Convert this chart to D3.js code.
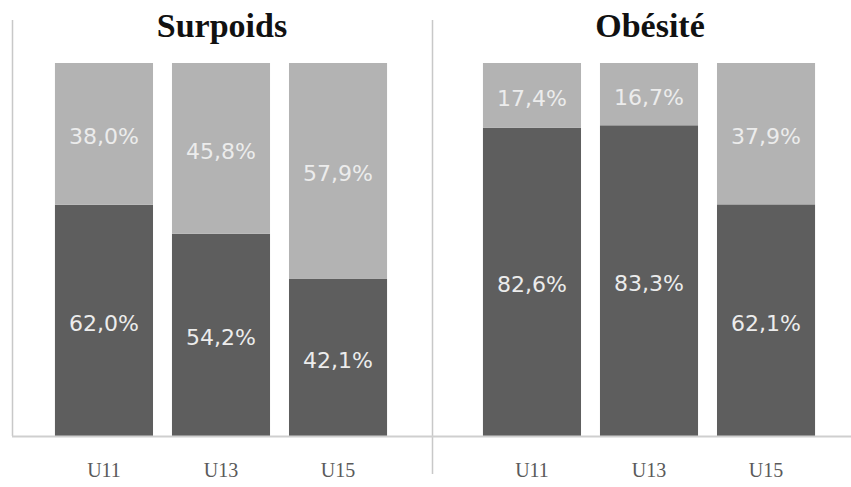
<!DOCTYPE html>
<html>
<head>
<meta charset="utf-8">
<script src="https://cdn.jsdelivr.net/npm/d3@7"></script>
<style>
  html, body { margin: 0; padding: 0; background: #fff; }
  svg { display: block; }
</style>
</head>
<body>
<svg id="chart" width="851" height="487"></svg>
<script>
// Age groups shown in each panel
const categories = ["U11", "U13", "U15"];

// Share (%) of each group, dark lower segment and light upper segment
const surpoidsLower = [62.0, 54.2, 42.1];
const surpoidsUpper = [38.0, 45.8, 57.9];
const obesiteLower = [82.6, 83.3, 62.1];
const obesiteUpper = [17.4, 16.7, 37.9];

const panelTitles = ["Surpoids", "Obésité"];

const svg = d3.select("#chart");
const W = 851, H = 487;

const baseY = 436;
const topY = 63;
const y = d3.scaleLinear().domain([0, 100]).range([baseY, topY]);

const fmt = v => d3.format(".1f")(v).replace(".", ",") + "%";

const panels = [
  { title: panelTitles[0], lower: surpoidsLower, upper: surpoidsUpper, range: [12, 430] },
  { title: panelTitles[1], lower: obesiteLower, upper: obesiteUpper, range: [440, 858] }
];

const darkColor = "#5e5e5e";
const lightColor = "#b3b3b3";

// Axis lines: left edge and panel divider
svg.append("line")
  .attr("x1", 12.5).attr("x2", 12.5).attr("y1", 20).attr("y2", baseY)
  .attr("stroke", "#c8c8c8").attr("stroke-width", 1.5);
svg.append("line")
  .attr("x1", 432.5).attr("x2", 432.5).attr("y1", 20).attr("y2", 474)
  .attr("stroke", "#c8c8c8").attr("stroke-width", 1.5);

panels.forEach(p => {
  const x = d3.scaleBand()
    .domain(categories)
    .range(p.range)
    .paddingInner(0.162)
    .paddingOuter(0.367);

  const g = svg.append("g");

  // Stacked bars
  const rows = categories.map((c, i) => ({ c, lo: p.lower[i], up: p.upper[i] }));

  g.selectAll("rect.lo").data(rows).join("rect")
    .attr("class", "lo")
    .attr("x", d => x(d.c))
    .attr("width", x.bandwidth())
    .attr("y", d => y(d.lo))
    .attr("height", d => y(0) - y(d.lo))
    .attr("fill", darkColor);

  g.selectAll("rect.up").data(rows).join("rect")
    .attr("class", "up")
    .attr("x", d => x(d.c))
    .attr("width", x.bandwidth())
    .attr("y", d => y(d.lo + d.up))
    .attr("height", d => y(d.lo) - y(d.lo + d.up))
    .attr("fill", lightColor);

  // Value labels centred in each segment
  const labelStyle = sel => sel
    .attr("text-anchor", "middle")
    .attr("dominant-baseline", "central")
    .attr("font-family", "DejaVu Sans, Verdana, sans-serif")
    .attr("font-size", 22)
    .attr("fill", "#ececec");

  g.selectAll("text.lo").data(rows).join("text")
    .attr("class", "lo")
    .attr("x", d => x(d.c) + x.bandwidth() / 2)
    .attr("y", d => (y(0) + y(d.lo)) / 2 + 3)
    .text(d => fmt(d.lo))
    .call(labelStyle);

  g.selectAll("text.up").data(rows).join("text")
    .attr("class", "up")
    .attr("x", d => x(d.c) + x.bandwidth() / 2)
    .attr("y", d => (y(d.lo) + y(d.lo + d.up)) / 2 + 3)
    .text(d => fmt(d.up))
    .call(labelStyle);

  // Category axis
  const axis = d3.axisBottom(x).tickSize(0).tickPadding(0);
  const ag = g.append("g")
    .attr("transform", `translate(0,${baseY})`)
    .call(axis);
  ag.select(".domain").remove();
  ag.selectAll("text")
    .attr("dy", 0)
    .attr("y", 41)
    .attr("font-family", "Liberation Serif, Times New Roman, serif")
    .attr("font-size", 20)
    .attr("fill", "#5a5a5a");

  // Panel title
  g.append("text")
    .attr("x", (x(categories[0]) + x(categories[2]) + x.bandwidth()) / 2 + 1)
    .attr("y", 37)
    .attr("text-anchor", "middle")
    .attr("font-family", "Liberation Serif, Times New Roman, serif")
    .attr("font-weight", "bold")
    .attr("font-size", 34)
    .attr("fill", "#111")
    .text(p.title);
});

// Shared baseline across both panels
svg.append("line")
  .attr("x1", 12).attr("x2", W).attr("y1", baseY + 0.5).attr("y2", baseY + 0.5)
  .attr("stroke", "#cfcfcf").attr("stroke-width", 2);
</script>
</body>
</html>
